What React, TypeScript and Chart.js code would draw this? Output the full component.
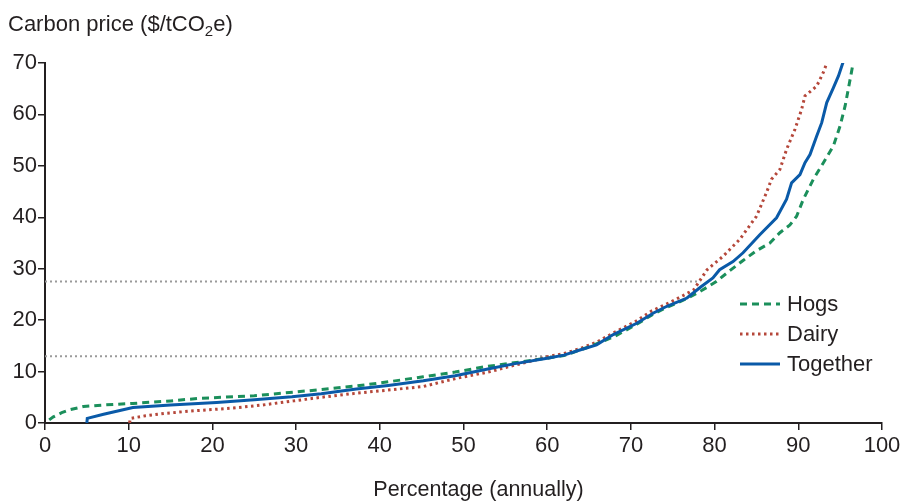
import React, { useEffect, useRef } from "react";
import { Chart, registerables } from "chart.js";

Chart.register(...registerables);

// ---- data ----
const hogsX = [0.5, 1, 2, 3, 4.6, 7, 10.5, 15, 18.5, 25, 29.7, 33, 37.2, 41, 45.2, 49, 52.4, 56, 60, 62, 65, 68, 70.7, 72.7, 74.3, 76.7, 78.5, 80.2, 81.8, 83.4, 85, 86.6, 87.8, 89, 89.8, 90.6, 91.8, 93, 94.2, 95, 95.6, 96.2, 96.6];
const hogsY = [0.6, 1.2, 2.0, 2.6, 3.2, 3.5, 3.8, 4.3, 4.8, 5.3, 6.0, 6.5, 7.2, 8.0, 9.0, 9.9, 10.9, 11.7, 12.6, 13.1, 14.8, 16.8, 19.2, 21.2, 22.5, 24.2, 25.8, 27.5, 29.6, 31.6, 33.5, 35.0, 37.0, 38.5, 40.2, 43.5, 47.4, 50.6, 53.9, 57.8, 61.7, 66.9, 70.4];

const dairyX = [10.1, 10.2, 12, 14.5, 18, 22.5, 26, 29.7, 33, 37.2, 41, 45.2, 49.2, 53.2, 56, 58, 60, 62, 64, 66, 68, 70.5, 72.5, 74.5, 76.5, 77.5, 79.1, 81, 83, 85, 86.2, 86.8, 87.8, 88.6, 89.6, 90.4, 90.8, 92.2, 93, 93.5];
const dairyY = [0, 0.9, 1.4, 1.9, 2.4, 2.9, 3.5, 4.3, 5.0, 5.8, 6.4, 7.1, 8.7, 10.0, 11.2, 12.0, 12.9, 13.5, 14.5, 15.8, 17.6, 19.7, 21.8, 23.3, 25.0, 25.9, 29.8, 32.4, 35.7, 40.2, 44.8, 47.4, 49.3, 53.2, 57.1, 61.0, 63.6, 65.5, 68.2, 70.4];

const togetherX = [5, 5.05, 7, 10.5, 15, 20.5, 25, 29.5, 33, 37.2, 41, 45.2, 49, 53.2, 56, 60, 62, 63.9, 65.9, 67.9, 70.7, 72.7, 74.3, 76.7, 78.3, 79.8, 80.6, 82.2, 83.4, 85.4, 87.4, 88.6, 89.2, 90.2, 90.8, 91.4, 92.2, 92.8, 93.4, 94.2, 94.8, 95.4];
const togetherY = [0, 0.9, 1.7, 3.0, 3.5, 4.0, 4.5, 5.1, 5.7, 6.6, 7.3, 8.2, 9.2, 10.6, 11.5, 12.6, 13.2, 14.2, 15.2, 17.2, 19.4, 21.4, 22.7, 24.3, 26.4, 28.2, 29.8, 31.4, 33.1, 36.6, 39.9, 43.5, 46.7, 48.3, 50.6, 52.2, 55.8, 58.4, 62.3, 65.2, 67.5, 70.4];

// reference (dotted grey) lines: price level and the share where it is reached
const refPrices = [27.5, 13];
const refShares = [78.3, 60.7];

const seriesLabels = ["Hogs", "Dairy", "Together"];
const xTicks = [0, 10, 20, 30, 40, 50, 60, 70, 80, 90, 100];
const yTicks = [0, 10, 20, 30, 40, 50, 60, 70];
const yTitleMain = "Carbon price ($/tCO";
const yTitleSub = "2";
const yTitleEnd = "e)";
const xTitle = "Percentage (annually)";

const FONT = "'Liberation Sans', Arial, Helvetica, sans-serif";
const TEXT = "#231f20";

const toPts = (xs: number[], ys: number[]) => xs.map((x, i) => ({ x, y: ys[i] }));

const overlayPlugin = {
  id: "overlay",
  afterDraw(chart: any) {
    const ctx = chart.ctx;
    const area = chart.chartArea;
    ctx.save();
    ctx.fillStyle = TEXT;
    ctx.textBaseline = "alphabetic";
    ctx.textAlign = "left";
    // y title
    ctx.font = `22px ${FONT}`;
    let x = 8;
    const base = 31;
    ctx.fillText(yTitleMain, x, base);
    x += ctx.measureText(yTitleMain).width;
    ctx.font = `15px ${FONT}`;
    ctx.fillText(yTitleSub, x, base + 5);
    x += ctx.measureText(yTitleSub).width;
    ctx.font = `22px ${FONT}`;
    ctx.fillText(yTitleEnd, x, base);
    // x title
    ctx.textAlign = "center";
    ctx.font = `21.5px ${FONT}`;
    ctx.fillText(xTitle, (area.left + area.right) / 2 + 15, 496);
    // legend
    const lx = area.right - 142;
    const ly = area.top + 241;
    const datasets = chart.data.datasets;
    seriesLabels.forEach((lab, i) => {
      const ds = datasets.find((d: any) => d.label === lab);
      const y = ly + i * 30;
      ctx.beginPath();
      ctx.strokeStyle = ds.borderColor;
      ctx.lineWidth = ds.borderWidth;
      ctx.setLineDash(ds.borderDash || []);
      ctx.moveTo(lx, y);
      ctx.lineTo(lx + 40, y);
      ctx.stroke();
      ctx.setLineDash([]);
      ctx.fillStyle = TEXT;
      ctx.textAlign = "left";
      ctx.textBaseline = "middle";
      ctx.font = `22px ${FONT}`;
      ctx.fillText(lab, lx + 47, y + 1);
    });
    ctx.restore();
  },
};

export default function App() {
  const ref = useRef<HTMLCanvasElement | null>(null);
  useEffect(() => {
    document.body.style.margin = "0";
    const refDatasets = refPrices.map((p, i) => ({
      label: "ref" + i,
      data: [
        { x: 0, y: p },
        { x: refShares[i], y: p },
      ],
      borderColor: "#9a9a9a",
      borderWidth: 2,
      borderDash: [2, 3],
      pointRadius: 0,
      order: 3,
    }));
    const chart = new Chart(ref.current as HTMLCanvasElement, {
      type: "line",
      data: {
        datasets: [
          {
            label: "Together",
            data: toPts(togetherX, togetherY),
            borderColor: "#0a5aa8",
            borderWidth: 3,
            pointRadius: 0,
            order: 0,
          },
          {
            label: "Hogs",
            data: toPts(hogsX, hogsY),
            borderColor: "#1b8f5b",
            borderWidth: 3,
            borderDash: [7, 5],
            pointRadius: 0,
            order: 1,
          },
          {
            label: "Dairy",
            data: toPts(dairyX, dairyY),
            borderColor: "#b5473a",
            borderWidth: 3,
            borderDash: [2.5, 3.5],
            pointRadius: 0,
            order: 2,
          },
          ...refDatasets,
        ] as any,
      },
      options: {
        animation: false,
        responsive: false,
        events: [],
        layout: { padding: { left: 0, top: 63, right: 24, bottom: 0 } },
        plugins: { legend: { display: false }, tooltip: { enabled: false }, title: { display: false } },
        scales: {
          x: {
            type: "linear",
            min: 0,
            max: 100,
            afterBuildTicks: (s: any) => {
              s.ticks = xTicks.map((v) => ({ value: v }));
            },
            afterFit: (s: any) => {
              s.height = 78;
            },
            ticks: { color: TEXT, font: { family: FONT, size: 22 }, padding: 3, maxRotation: 0, autoSkip: false },
            grid: { drawOnChartArea: false, drawTicks: true, tickLength: 7, color: "#231f20", lineWidth: 1.5 },
            border: { display: true, color: "#231f20", width: 2 },
          },
          y: {
            type: "linear",
            min: 0,
            max: 70,
            afterBuildTicks: (s: any) => {
              s.ticks = yTicks.map((v) => ({ value: v }));
            },
            afterFit: (s: any) => {
              s.width = 45;
            },
            ticks: { color: TEXT, font: { family: FONT, size: 22 }, padding: 1 },
            grid: { drawOnChartArea: false, drawTicks: true, tickLength: 7, color: "#231f20", lineWidth: 1.5 },
            border: { display: true, color: "#231f20", width: 2 },
          },
        },
      },
      plugins: [overlayPlugin],
    } as any);
    return () => chart.destroy();
  }, []);
  return (
    <div style={{ width: 906, height: 501, background: "#fff" }}>
      <canvas ref={ref} width={906} height={501} style={{ display: "block" }} />
    </div>
  );
}
